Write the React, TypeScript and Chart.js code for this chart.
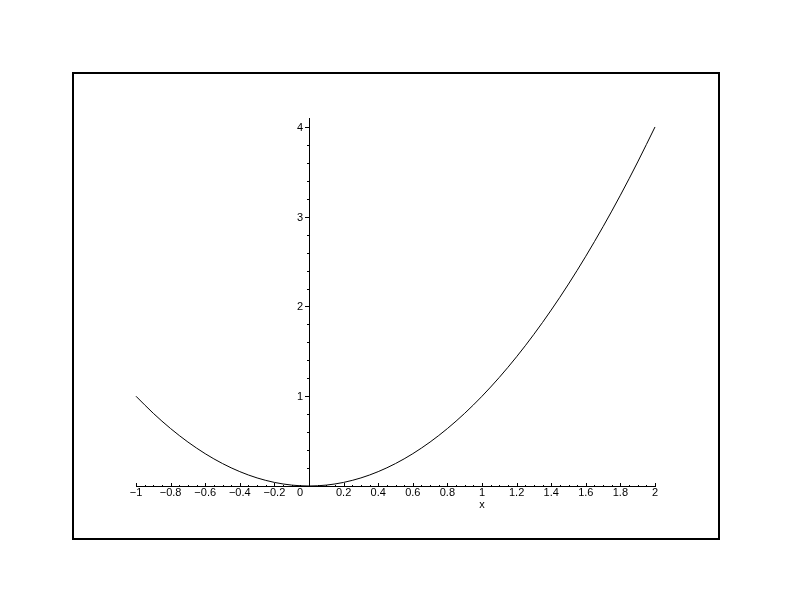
import React, { useEffect, useRef } from "react";
import { Chart, registerables } from "chart.js";

Chart.register(...registerables);

// Curve samples (x from -1 to 2)
const xValues = [-1, -0.9, -0.8, -0.7, -0.6, -0.5, -0.4, -0.3, -0.2, -0.1, 0, 0.1, 0.2, 0.3, 0.4, 0.5, 0.6, 0.7, 0.8, 0.9, 1, 1.1, 1.2, 1.3, 1.4, 1.5, 1.6, 1.7, 1.8, 1.9, 2];
const yValues = [1, 0.81, 0.64, 0.49, 0.36, 0.25, 0.16, 0.09, 0.04, 0.01, 0, 0.01, 0.04, 0.09, 0.16, 0.25, 0.36, 0.49, 0.64, 0.81, 1, 1.21, 1.44, 1.69, 1.96, 2.25, 2.56, 2.89, 3.24, 3.61, 4];

// Axis ticks
const xTickValues = [-1, -0.8, -0.6, -0.4, -0.2, 0.2, 0.4, 0.6, 0.8, 1, 1.2, 1.4, 1.6, 1.8, 2];
const xTickLabels = ["\u22121", "\u22120.8", "\u22120.6", "\u22120.4", "\u22120.2", "0.2", "0.4", "0.6", "0.8", "1", "1.2", "1.4", "1.6", "1.8", "2"];
const yTickValues = [0, 1, 2, 3, 4];
const yTickLabels = ["0", "1", "2", "3", "4"];
const xMinorStep = 0.05;
const yMinorStep = 0.2;
const xAxisTitle = "x";
const xMin = -1, xMax = 2, yMin = 0, yMax = 4.1;

const FONT = '11px "Liberation Sans", Arial, sans-serif';

const axesPlugin = {
  id: "mapleAxes",
  beforeDatasetsDraw(chart: any) {
    const { ctx } = chart;
    const xs = chart.scales.x;
    const ys = chart.scales.y;
    const x0 = Math.round(xs.getPixelForValue(0));
    const y0 = Math.round(ys.getPixelForValue(0));
    ctx.save();
    ctx.strokeStyle = "#000";
    ctx.fillStyle = "#000";
    ctx.lineWidth = 1;
    ctx.beginPath();
    // x axis
    ctx.moveTo(Math.round(xs.left), y0 + 0.5);
    ctx.lineTo(Math.round(xs.right) + 1, y0 + 0.5);
    // y axis
    ctx.moveTo(x0 + 0.5, Math.round(ys.top));
    ctx.lineTo(x0 + 0.5, y0 + 1);
    // x minor ticks
    const nx = Math.round((xMax - xMin) / xMinorStep);
    for (let i = 0; i <= nx; i++) {
      const v = xMin + i * xMinorStep;
      const px = Math.round(xs.getPixelForValue(v)) + 0.5;
      const major = Math.abs(v * 5 - Math.round(v * 5)) < 1e-6;
      const len = major ? 3 : 1;
      ctx.moveTo(px, y0);
      ctx.lineTo(px, y0 - len);
    }
    // y minor ticks
    const ny = Math.floor((yMax - yMin) / yMinorStep + 1e-6);
    for (let i = 1; i <= ny; i++) {
      const v = yMin + i * yMinorStep;
      const py = Math.round(ys.getPixelForValue(v)) + 0.5;
      const major = Math.abs(v - Math.round(v)) < 1e-6;
      const len = major ? 4 : 2;
      ctx.moveTo(x0, py);
      ctx.lineTo(x0 - len, py);
    }
    ctx.stroke();

    ctx.font = FONT;
    // x labels
    ctx.textAlign = "center";
    ctx.textBaseline = "alphabetic";
    xTickValues.forEach((v, i) => {
      const px = xs.getPixelForValue(v);
      ctx.fillText(xTickLabels[i], px, y0 + 10);
    });
    // x axis title under the x=1 tick
    ctx.fillText(xAxisTitle, xs.getPixelForValue(1), y0 + 22);
    // y labels
    ctx.textAlign = "right";
    yTickValues.forEach((v, i) => {
      const py = ys.getPixelForValue(v);
      const off = v === 0 ? 10 : 4;
      ctx.fillText(yTickLabels[i], x0 - 6, py + off);
    });
    ctx.restore();
  },
};

export default function App() {
  const ref = useRef<HTMLCanvasElement | null>(null);
  useEffect(() => {
    if (!ref.current) return;
    const points = xValues.map((x, i) => ({ x, y: yValues[i] }));
    const chart = new Chart(ref.current, {
      type: "line",
      data: {
        datasets: [
          {
            data: points,
            borderColor: "#000",
            borderWidth: 1,
            pointRadius: 0,
            fill: false,
            cubicInterpolationMode: "monotone",
            clip: false,
          } as any,
        ],
      },
      options: {
        animation: false,
        responsive: false,
        devicePixelRatio: 1,
        layout: { padding: { left: 136, right: 137, top: 118, bottom: 126 } },
        plugins: { legend: { display: false }, tooltip: { enabled: false } },
        events: [],
        scales: {
          x: { type: "linear", min: xMin, max: xMax, display: false },
          y: { type: "linear", min: yMin, max: yMax, display: false },
        },
      },
      plugins: [axesPlugin],
    });
    return () => chart.destroy();
  }, []);
  return (
    <div style={{ position: "fixed", left: 0, top: 0, width: 792, height: 612, background: "#fff" }}>
      <canvas ref={ref} width={792} height={612} style={{ position: "absolute", left: 0, top: 0 }} />
      <div
        style={{
          position: "absolute",
          left: 72,
          top: 72,
          width: 644,
          height: 464,
          border: "2px solid #000",
          pointerEvents: "none",
        }}
      />
    </div>
  );
}
